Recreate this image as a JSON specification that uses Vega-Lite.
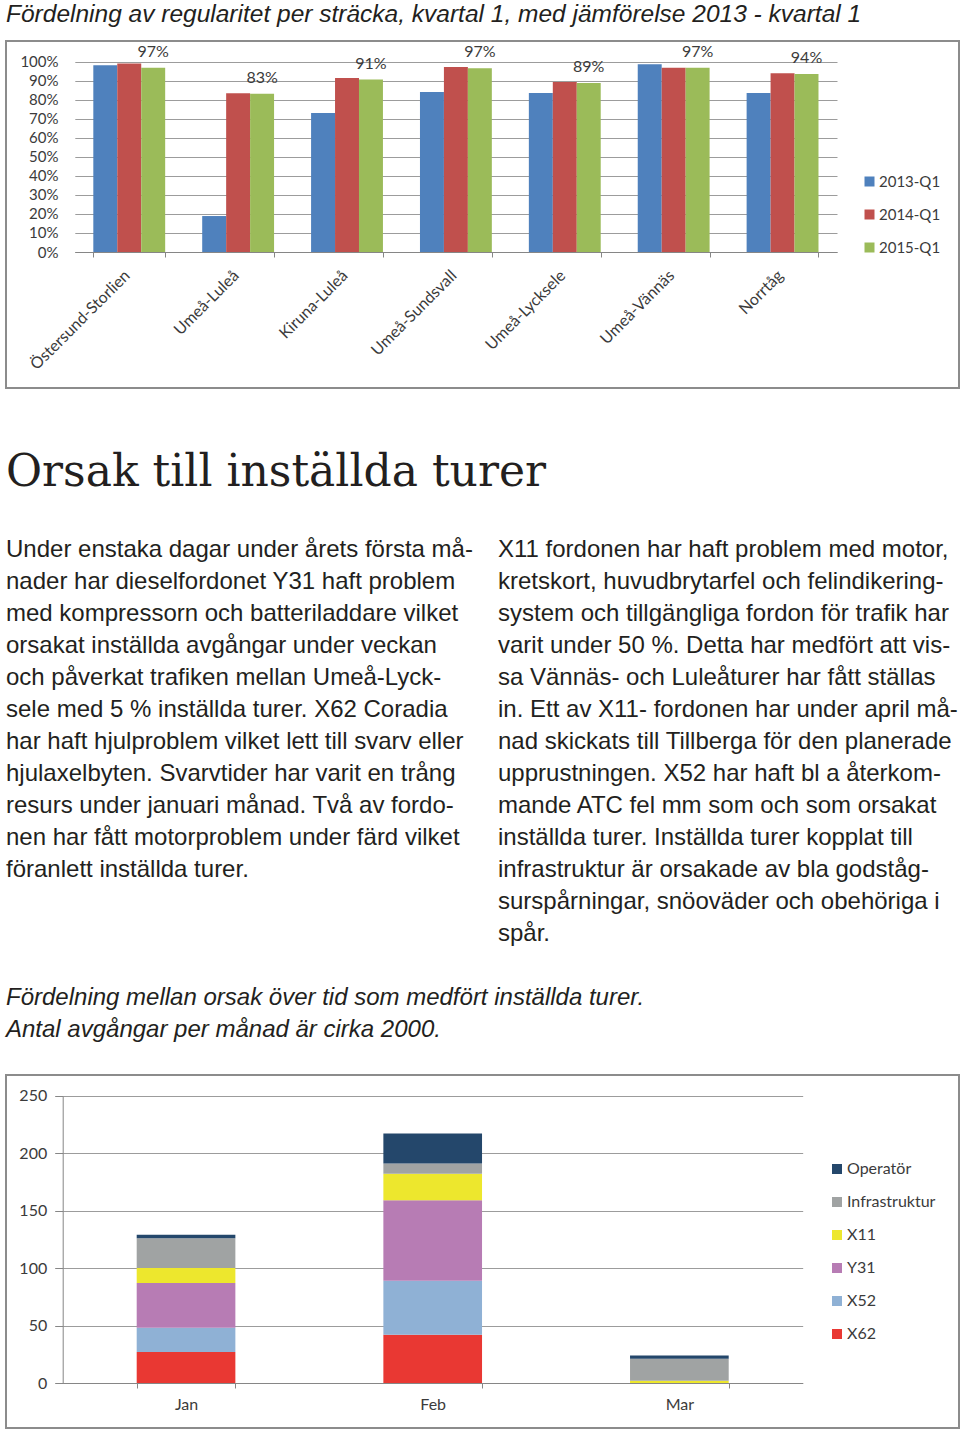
{
  "$schema": "https://vega.github.io/schema/vega-lite/v6.json",
  "padding": {"left": 5, "top": 0, "right": 0, "bottom": 0},
  "background": "white",
  "spacing": 29,
  "resolve": {"scale": {"color": "independent", "x": "independent", "y": "independent"}, "legend": {"color": "independent"}},
  "config": {
    "font": "Lato",
    "view": {"stroke": "#8c8c8c", "strokeWidth": 2},
    "axis": {"labelFont": "Lato", "labelColor": "#3b3b3b"},
    "legend": {"labelFont": "Lato", "labelColor": "#3b3b3b"}
  },
  "vconcat": [
    {
      "spacing": 62,
      "resolve": {"scale": {"color": "independent", "x": "independent", "y": "independent"}, "legend": {"color": "independent"}},
      "vconcat": [
        {
          "width": 953,
          "height": 347,
          "title": {
            "text": "Fördelning av regularitet per sträcka, kvartal 1, med jämförelse 2013 - kvartal 1",
            "anchor": "start",
            "font": "Liberation Sans",
            "fontStyle": "italic",
            "fontSize": 24.5,
            "fontWeight": "normal",
            "color": "#231f20",
            "baseline": "top",
            "offset": 14
          },
          "data": {
            "values": [
              {"route": "Östersund-Storlien", "series": "2013-Q1", "value": 0.981},
              {"route": "Östersund-Storlien", "series": "2014-Q1", "value": 0.991},
              {"route": "Östersund-Storlien", "series": "2015-Q1", "value": 0.968},
              {"route": "Umeå-Luleå", "series": "2013-Q1", "value": 0.189},
              {"route": "Umeå-Luleå", "series": "2014-Q1", "value": 0.834},
              {"route": "Umeå-Luleå", "series": "2015-Q1", "value": 0.832},
              {"route": "Kiruna-Luleå", "series": "2013-Q1", "value": 0.731},
              {"route": "Kiruna-Luleå", "series": "2014-Q1", "value": 0.914},
              {"route": "Kiruna-Luleå", "series": "2015-Q1", "value": 0.906},
              {"route": "Umeå-Sundsvall", "series": "2013-Q1", "value": 0.841},
              {"route": "Umeå-Sundsvall", "series": "2014-Q1", "value": 0.972},
              {"route": "Umeå-Sundsvall", "series": "2015-Q1", "value": 0.966},
              {"route": "Umeå-Lycksele", "series": "2013-Q1", "value": 0.836},
              {"route": "Umeå-Lycksele", "series": "2014-Q1", "value": 0.893},
              {"route": "Umeå-Lycksele", "series": "2015-Q1", "value": 0.888},
              {"route": "Umeå-Vännäs", "series": "2013-Q1", "value": 0.986},
              {"route": "Umeå-Vännäs", "series": "2014-Q1", "value": 0.968},
              {"route": "Umeå-Vännäs", "series": "2015-Q1", "value": 0.968},
              {"route": "Norrtåg", "series": "2013-Q1", "value": 0.836},
              {"route": "Norrtåg", "series": "2014-Q1", "value": 0.939},
              {"route": "Norrtåg", "series": "2015-Q1", "value": 0.936}
            ]
          },
          "encoding": {
            "x": {
              "field": "route",
              "type": "nominal",
              "sort": null,
              "scale": {
                "domain": ["Östersund-Storlien", "Umeå-Luleå", "Kiruna-Luleå", "Umeå-Sundsvall", "Umeå-Lycksele", "Umeå-Vännäs", "Norrtåg"],
                "range": [68.8, 831],
                "paddingInner": 0.34,
                "paddingOuter": 0.17
              },
              "axis": {
                "orient": "bottom",
                "offset": -136,
                "title": null,
                "labelAngle": -45,
                "labelAlign": "right",
                "labelBaseline": "top",
                "labelFontSize": 16,
                "labelPadding": 10,
                "labelOffset": -8,
                "tickBand": "extent",
                "ticks": true,
                "tickSize": 5,
                "tickColor": "#868686",
                "domainColor": "#868686",
                "grid": false
              }
            },
            "xOffset": {
              "field": "series",
              "type": "nominal",
              "scale": {"domain": ["2013-Q1", "2014-Q1", "2015-Q1"], "paddingInner": 0, "paddingOuter": 0}
            },
            "y": {
              "field": "value",
              "type": "quantitative",
              "scale": {"domain": [0, 1], "range": [211, 20.7], "nice": false, "zero": true},
              "axis": {
                "orient": "left",
                "offset": -56,
                "title": null,
                "format": ".0%",
                "values": [0, 0.1, 0.2, 0.3, 0.4, 0.5, 0.6, 0.7, 0.8, 0.9, 1],
                "labelFontSize": 15,
                "labelPadding": 4,
                "domain": false,
                "ticks": false,
                "grid": true,
                "gridColor": "#9c9c9c",
                "gridWidth": 1
              }
            }
          },
          "layer": [
            {
              "mark": {"type": "bar"},
              "encoding": {
                "color": {
                  "field": "series",
                  "type": "nominal",
                  "scale": {"domain": ["2013-Q1", "2014-Q1", "2015-Q1"], "range": ["#4f81bd", "#c0504d", "#9bbb59"]},
                  "legend": {
                    "orient": "none",
                    "legendX": 856,
                    "legendY": 133,
                    "title": null,
                    "symbolType": "square",
                    "symbolSize": 100,
                    "symbolStrokeWidth": 0,
                    "labelFontSize": 15,
                    "labelOffset": 2,
                    "rowPadding": 17
                  }
                }
              }
            },
            {
              "transform": [{"filter": "datum.series === '2015-Q1'"}],
              "mark": {"type": "text", "baseline": "middle", "dy": -16, "fontSize": 16, "color": "#3b3b3b"},
              "encoding": {
                "text": {"field": "value", "type": "quantitative", "format": ".0%"}
              }
            }
          ]
        },
        {
          "width": 955,
          "height": 549,
          "view": {"stroke": null},
          "title": {
            "text": "Orsak till inställda turer",
            "anchor": "start",
            "font": "DejaVu Serif",
            "fontSize": 44,
            "fontWeight": "normal",
            "color": "#231f20",
            "baseline": "top",
            "offset": 1
          },
          "data": {
            "values": [
              {"kind": "body", "col": 0, "line": 0, "text": "Under enstaka dagar under årets första må-"},
              {"kind": "body", "col": 0, "line": 1, "text": "nader har dieselfordonet Y31 haft problem"},
              {"kind": "body", "col": 0, "line": 2, "text": "med kompressorn och batteriladdare vilket"},
              {"kind": "body", "col": 0, "line": 3, "text": "orsakat inställda avgångar under veckan"},
              {"kind": "body", "col": 0, "line": 4, "text": "och påverkat trafiken mellan Umeå-Lyck-"},
              {"kind": "body", "col": 0, "line": 5, "text": "sele med 5 % inställda turer. X62 Coradia"},
              {"kind": "body", "col": 0, "line": 6, "text": "har haft hjulproblem vilket lett till svarv eller"},
              {"kind": "body", "col": 0, "line": 7, "text": "hjulaxelbyten. Svarvtider har varit en trång"},
              {"kind": "body", "col": 0, "line": 8, "text": "resurs under januari månad. Två av fordo-"},
              {"kind": "body", "col": 0, "line": 9, "text": "nen har fått motorproblem under färd vilket"},
              {"kind": "body", "col": 0, "line": 10, "text": "föranlett inställda turer."},
              {"kind": "body", "col": 1, "line": 0, "text": "X11 fordonen har haft problem med motor,"},
              {"kind": "body", "col": 1, "line": 1, "text": "kretskort, huvudbrytarfel och felindikering-"},
              {"kind": "body", "col": 1, "line": 2, "text": "system och tillgängliga fordon för trafik har"},
              {"kind": "body", "col": 1, "line": 3, "text": "varit under 50 %. Detta har medfört att vis-"},
              {"kind": "body", "col": 1, "line": 4, "text": "sa Vännäs- och Luleåturer har fått ställas"},
              {"kind": "body", "col": 1, "line": 5, "text": "in. Ett av X11- fordonen har under april må-"},
              {"kind": "body", "col": 1, "line": 6, "text": "nad skickats till Tillberga för den planerade"},
              {"kind": "body", "col": 1, "line": 7, "text": "upprustningen. X52 har haft bl a återkom-"},
              {"kind": "body", "col": 1, "line": 8, "text": "mande ATC fel mm som och som orsakat"},
              {"kind": "body", "col": 1, "line": 9, "text": "inställda turer. Inställda turer kopplat till"},
              {"kind": "body", "col": 1, "line": 10, "text": "infrastruktur är orsakade av bla godståg-"},
              {"kind": "body", "col": 1, "line": 11, "text": "surspårningar, snöoväder och obehöriga i"},
              {"kind": "body", "col": 1, "line": 12, "text": "spår."},
              {"kind": "caption", "col": 0, "line": 14, "text": "Fördelning mellan orsak över tid som medfört inställda turer."},
              {"kind": "caption", "col": 0, "line": 15, "text": "Antal avgångar per månad är cirka 2000."}
            ]
          },
          "encoding": {
            "x": {"field": "col", "type": "quantitative", "scale": {"domain": [0, 1], "range": [0, 492]}, "axis": null},
            "y": {"field": "line", "type": "quantitative", "scale": {"domain": [0, 15], "range": [61, 541]}, "axis": null},
            "text": {"field": "text", "type": "nominal"}
          },
          "layer": [
            {
              "transform": [{"filter": "datum.kind === 'body'"}],
              "mark": {"type": "text", "align": "left", "baseline": "alphabetic", "font": "Liberation Sans", "fontSize": 24, "color": "#231f20"}
            },
            {
              "transform": [{"filter": "datum.kind === 'caption'"}],
              "mark": {"type": "text", "align": "left", "baseline": "alphabetic", "font": "Liberation Sans", "fontStyle": "italic", "fontSize": 24, "color": "#231f20"}
            }
          ]
        }
      ]
    },
    {
      "width": 953,
      "height": 353,
      "data": {
        "values": [
          {"month": "Jan", "cause": "X62", "rank": 1, "count": 27},
          {"month": "Jan", "cause": "X52", "rank": 2, "count": 21},
          {"month": "Jan", "cause": "Y31", "rank": 3, "count": 39},
          {"month": "Jan", "cause": "X11", "rank": 4, "count": 13},
          {"month": "Jan", "cause": "Infrastruktur", "rank": 5, "count": 26},
          {"month": "Jan", "cause": "Operatör", "rank": 6, "count": 3},
          {"month": "Feb", "cause": "X62", "rank": 1, "count": 42},
          {"month": "Feb", "cause": "X52", "rank": 2, "count": 47},
          {"month": "Feb", "cause": "Y31", "rank": 3, "count": 70},
          {"month": "Feb", "cause": "X11", "rank": 4, "count": 23},
          {"month": "Feb", "cause": "Infrastruktur", "rank": 5, "count": 9},
          {"month": "Feb", "cause": "Operatör", "rank": 6, "count": 26},
          {"month": "Mar", "cause": "X62", "rank": 1, "count": 0},
          {"month": "Mar", "cause": "X52", "rank": 2, "count": 0},
          {"month": "Mar", "cause": "Y31", "rank": 3, "count": 0},
          {"month": "Mar", "cause": "X11", "rank": 4, "count": 2},
          {"month": "Mar", "cause": "Infrastruktur", "rank": 5, "count": 19},
          {"month": "Mar", "cause": "Operatör", "rank": 6, "count": 3}
        ]
      },
      "mark": {"type": "bar"},
      "encoding": {
        "x": {
          "field": "month",
          "type": "nominal",
          "sort": null,
          "scale": {"domain": ["Jan", "Feb", "Mar"], "range": [56.7, 796.7], "paddingInner": 0.6, "paddingOuter": 0.3},
          "axis": {
            "orient": "bottom",
            "offset": -45,
            "title": null,
            "labelAngle": 0,
            "labelFontSize": 16,
            "labelPadding": 8,
            "tickBand": "extent",
            "ticks": true,
            "tickSize": 5,
            "tickColor": "#868686",
            "domainColor": "#868686",
            "grid": false
          }
        },
        "y": {
          "field": "count",
          "type": "quantitative",
          "stack": "zero",
          "scale": {"domain": [0, 250], "range": [308, 20.7], "nice": false, "zero": true},
          "axis": {
            "orient": "left",
            "offset": -56.7,
            "title": null,
            "values": [0, 50, 100, 150, 200, 250],
            "labelFontSize": 16,
            "labelPadding": 8,
            "domain": true,
            "domainColor": "#868686",
            "ticks": true,
            "tickSize": 8,
            "tickColor": "#868686",
            "grid": true,
            "gridColor": "#9c9c9c",
            "gridWidth": 1
          }
        },
        "color": {
          "field": "cause",
          "type": "nominal",
          "scale": {
            "domain": ["Operatör", "Infrastruktur", "X11", "Y31", "X52", "X62"],
            "range": ["#24476b", "#a0a3a3", "#ede72d", "#b77cb4", "#8fb1d5", "#e93833"]
          },
          "legend": {
            "orient": "none",
            "legendX": 823,
            "legendY": 86,
            "title": null,
            "symbolType": "square",
            "symbolSize": 100,
            "symbolStrokeWidth": 0,
            "labelFontSize": 16,
            "labelOffset": 2,
            "rowPadding": 17
          }
        },
        "order": {"field": "rank", "type": "quantitative"}
      }
    }
  ]
}
